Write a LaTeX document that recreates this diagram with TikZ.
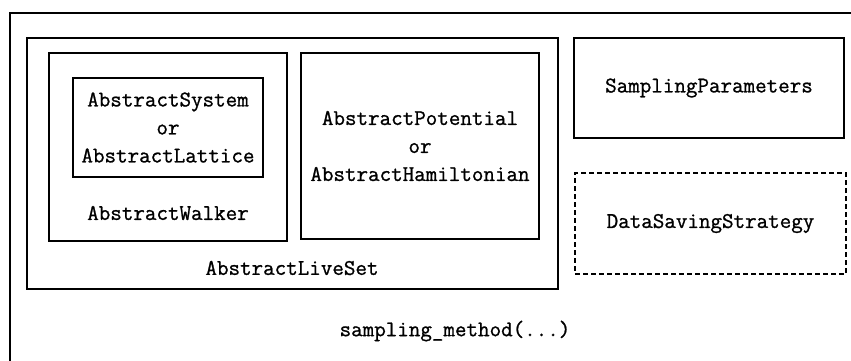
\documentclass[tikz,border=0pt]{standalone}
\usepackage{fontspec}
\setmonofont{Latin Modern Mono}[FakeBold=1]
\begin{document}
\begin{tikzpicture}[x=0.5pt,y=-0.5pt,
  box/.style={draw, line width=0.8pt, inner sep=0pt, align=center, font=\ttfamily\fontsize{11.2}{14}\selectfont},
  lbl/.style={inner sep=0pt, font=\ttfamily\fontsize{11.2}{14}\selectfont},
  dashbox/.style={box, dash pattern=on 2.5pt off 1.5pt}]
\useasboundingbox (0,0) rectangle (851,360);
\node[box, minimum width=430pt, minimum height=183.5pt] (outer) at (440,196.5) {};
\node[box, minimum width=265.5pt, minimum height=125.5pt] (liveset) at (292.5,163.5) {};
\node[box, minimum width=119pt, minimum height=94pt] (walker) at (168,147) {};
\node[box, minimum width=95pt, minimum height=49.5pt] (system) at (168,127.5) {AbstractSystem\\or\\AbstractLattice};
\node[box, minimum width=119pt, minimum height=93pt] (potential) at (420,146) {AbstractPotential\\or\\AbstractHamiltonian};
\node[box, minimum width=135pt, minimum height=50pt] (params) at (709,88) {SamplingParameters};
\node[dashbox, minimum width=135.5pt, minimum height=50.5pt] (saving) at (710.5,223.5) {DataSavingStrategy};
\node[lbl] (walkerlbl) at (168,213) {AbstractWalker};
\node[lbl] (livesetlbl) at (292,268) {AbstractLiveSet};
\node[lbl] (method) at (455,331) {sampling\_method(...)};
\end{tikzpicture}
\end{document}
